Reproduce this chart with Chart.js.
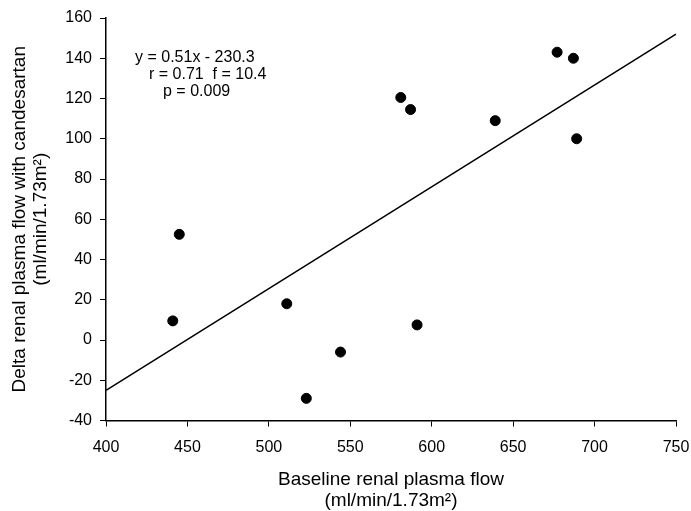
<!DOCTYPE html>
<html>
<head>
<meta charset="utf-8">
<script src="https://cdn.jsdelivr.net/npm/chart.js@4"></script>
<style>
  html, body { margin: 0; padding: 0; background: #fff; }
  #wrap { width: 691px; height: 511px; }
</style>
</head>
<body>
<div id="wrap"><canvas id="renalFlowChart" width="691" height="511"></canvas></div>
<script>
// baseline renal plasma flow (x) vs delta with candesartan (y)
const baselineFlow = [441, 445, 511, 523, 544, 581, 587, 591, 639, 677, 687, 689];
const deltaFlow    = [9.5, 52.5, 18, -29, -6, 120.5, 114.5, 7.5, 109, 143, 140, 100];

// regression line end points
const fitX = [400, 750];
const fitY = [-25, 152];

const xTicks = [400, 450, 500, 550, 600, 650, 700, 750];
const yTicks = [-40, -20, 0, 20, 40, 60, 80, 100, 120, 140, 160];

const statLines = ['y = 0.51x - 230.3', 'r = 0.71  f = 10.4', 'p = 0.009'];

const FONT = "'Liberation Sans', Arial, sans-serif";

const scatterPoints = baselineFlow.map((x, i) => ({ x: x, y: deltaFlow[i] }));
const fitPoints = fitX.map((x, i) => ({ x: x, y: fitY[i] }));

// stats text in the upper left corner
const statsText = {
    id: 'statsText',
    afterDraw(chart) {
        const ctx = chart.ctx;
        ctx.save();
        ctx.fillStyle = '#000';
        ctx.font = '16px ' + FONT;
        ctx.textBaseline = 'middle';
        ctx.textAlign = 'left';
        ctx.fillText(statLines[0], 135, 58);
        ctx.fillText(statLines[1], 149, 75);
        ctx.fillText(statLines[2], 163, 92);
        ctx.restore();
    }
};

const ctx = document.getElementById('renalFlowChart').getContext('2d');

new Chart(ctx, {
    type: 'scatter',
    data: {
        datasets: [{
            label: 'patients',
            data: scatterPoints,
            backgroundColor: '#000',
            borderColor: '#000',
            pointRadius: 5,
            pointHoverRadius: 5
        }, {
            label: 'fit',
            data: fitPoints,
            showLine: true,
            borderColor: '#000',
            borderWidth: 1.5,
            pointRadius: 0,
            fill: false
        }]
    },
    options: {
        responsive: false,
        animation: false,
        events: [],
        layout: { padding: { left: 0, top: 18, right: 15, bottom: 0 } },
        plugins: {
            legend: { display: false },
            tooltip: { enabled: false }
        },
        scales: {
            x: {
                type: 'linear',
                min: 400,
                max: 750,
                afterBuildTicks: (scale) => { scale.ticks = xTicks.map(v => ({ value: v })); },
                afterFit: (scale) => { scale.height = 90.5; scale.paddingRight = 10; },
                grid: { display: true, drawOnChartArea: false, drawTicks: true, tickLength: 6, color: '#000', lineWidth: 1 },
                border: { display: true, color: '#000', width: 1.5 },
                ticks: { color: '#000', font: { family: FONT, size: 16 }, padding: 11, maxRotation: 0 },
                title: {
                    display: true,
                    text: ['Baseline renal plasma flow', '(ml/min/1.73m²)'],
                    color: '#000',
                    font: { family: FONT, size: 19, lineHeight: 1.1 },
                    padding: { top: 0, bottom: 0 }
                }
            },
            y: {
                type: 'linear',
                min: -40,
                max: 160,
                afterBuildTicks: (scale) => { scale.ticks = yTicks.map(v => ({ value: v })); },
                afterFit: (scale) => { scale.width = 106; },
                grid: { display: true, drawOnChartArea: false, drawTicks: true, tickLength: 6, color: '#000', lineWidth: 1 },
                border: { display: true, color: '#000', width: 1.5 },
                ticks: { color: '#000', font: { family: FONT, size: 16 }, padding: 8 },
                title: {
                    display: true,
                    text: ['Delta renal plasma flow with candesartan', '(ml/min/1.73m²)'],
                    color: '#000',
                    font: { family: FONT, size: 19, lineHeight: 1.12 },
                    padding: { top: 9, bottom: 0 }
                }
            }
        }
    },
    plugins: [statsText]
});
</script>
</body>
</html>
